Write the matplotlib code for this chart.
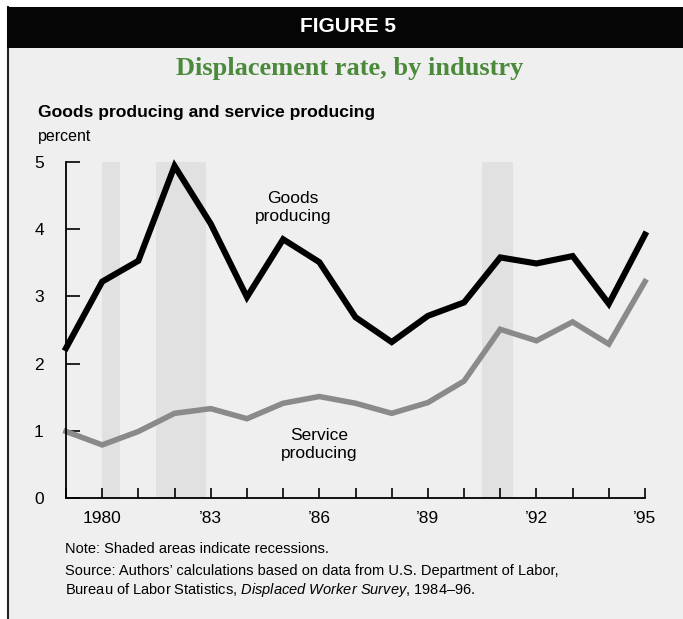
import matplotlib
matplotlib.use("Agg")
import matplotlib.pyplot as plt
from matplotlib.patches import Rectangle
from matplotlib.lines import Line2D

years = list(range(1979, 1996))
goods = [2.23, 3.22, 3.53, 4.94, 4.08, 2.99, 3.85, 3.51, 2.69, 2.32, 2.71,
         2.91, 3.58, 3.49, 3.60, 2.89, 3.92]
service = [0.99, 0.79, 0.99, 1.26, 1.33, 1.18, 1.41, 1.51, 1.41, 1.26, 1.42,
           1.74, 2.51, 2.34, 2.62, 2.29, 3.22]
recessions = [(1980.0, 1980.5), (1981.5, 1982.87), (1990.5, 1991.35)]
tick_years = [1980, 1983, 1986, 1989, 1992, 1995]
tick_labels = ["1980", "\u201983", "\u201986", "\u201989", "\u201992", "\u201995"]

plt.rcParams["mathtext.fontset"] = "custom"
plt.rcParams["mathtext.rm"] = "Liberation Sans"
plt.rcParams["mathtext.it"] = "Liberation Sans:italic"

W, H = 683, 619
bg = "#efefef"
fig = plt.figure(figsize=(W / 100, H / 100), dpi=100)
fig.patch.set_facecolor("white")

def fx(px):
    return px / W

def fy(py):
    return 1 - py / H

# panel background, header band and left rule
fig.patches.append(Rectangle((fx(7), 0), 1, fy(48), transform=fig.transFigure,
                             facecolor=bg, edgecolor="none", zorder=-2))
fig.patches.append(Rectangle((fx(7), fy(48)), 1, fy(7) - fy(48), transform=fig.transFigure,
                             facecolor="#050505", edgecolor="none", zorder=-1))
fig.lines.append(Line2D([fx(7.5), fx(7.5)], [0, fy(7)], transform=fig.transFigure,
                        color="#222222", lw=1.5, zorder=-1))

fig.text(fx(348), fy(27), "FIGURE 5", color="white", fontsize=15, fontweight="bold",
         family="Liberation Sans", ha="center", va="center")
fig.text(fx(350), fy(68), "Displacement rate, by industry", color="#4b8a3b", fontsize=19,
         fontweight="bold", family="Liberation Serif", ha="center", va="center")
fig.text(fx(38), fy(112), "Goods producing and service producing", fontsize=12.6,
         fontweight="bold", family="Liberation Sans", ha="left", va="center")
fig.text(fx(38), fy(137), "percent", fontsize=11.5, family="Liberation Sans",
         ha="left", va="center")

ax = fig.add_axes([fx(66), fy(498), fx(645) - fx(66), fy(162) - fy(498)])
ax.set_zorder(5)
ax.set_facecolor("none")
ax.set_xlim(1979, 1995)
ax.set_ylim(0, 5)

for a, b in recessions:
    ax.axvspan(a, b, ymin=0, ymax=1, color="#e1e1e1", lw=0, zorder=1)

ax.plot(years, service, color="#8a8a8a", lw=4.0, solid_joinstyle="miter", zorder=3, clip_on=False)
ax.plot(years, goods, color="black", lw=4.4, solid_joinstyle="miter", zorder=4, clip_on=False)

ax.text(1985.27, 4.32, "Goods\nproducing", fontsize=12.5, family="Liberation Sans",
        ha="center", va="center", linespacing=1.25)
ax.text(1986.0, 0.80, "Service\nproducing", fontsize=12.5, family="Liberation Sans",
        ha="center", va="center", linespacing=1.25)

for s in ["top", "right"]:
    ax.spines[s].set_visible(False)
for s in ["left", "bottom"]:
    ax.spines[s].set_linewidth(1.3)
    ax.spines[s].set_zorder(5)

ax.set_xticks(years)
ax.set_xticklabels(["" for y in years])
ax.tick_params(axis="x", direction="in", length=7, width=1.2)
for y, lab in zip(tick_years, tick_labels):
    ax.text(y, -0.31, lab, fontsize=12.5, family="Liberation Sans", ha="center", va="center")
ax.set_yticks([0, 1, 2, 3, 4, 5])
ax.set_yticklabels(["0", "1", "2", "3", "4", "5"], fontsize=12.5, family="Liberation Sans")
ax.tick_params(axis="y", direction="in", length=10, width=1.2, pad=16)

fig.text(fx(65), fy(549), "Note: Shaded areas indicate recessions.", fontsize=10.5,
         family="Liberation Sans", ha="left", va="center")
fig.text(fx(65), fy(571), "Source: Authors\u2019 calculations based on data from U.S. Department of Labor,",
         fontsize=10.5, family="Liberation Sans", ha="left", va="center")
fig.text(fx(65), fy(590), "Bureau of Labor Statistics, $\\it{Displaced\\ Worker\\ Survey}$, 1984\u201396.",
         fontsize=10.5, family="Liberation Sans", ha="left", va="center")

fig.savefig("out.png", dpi=100, facecolor=fig.get_facecolor())
